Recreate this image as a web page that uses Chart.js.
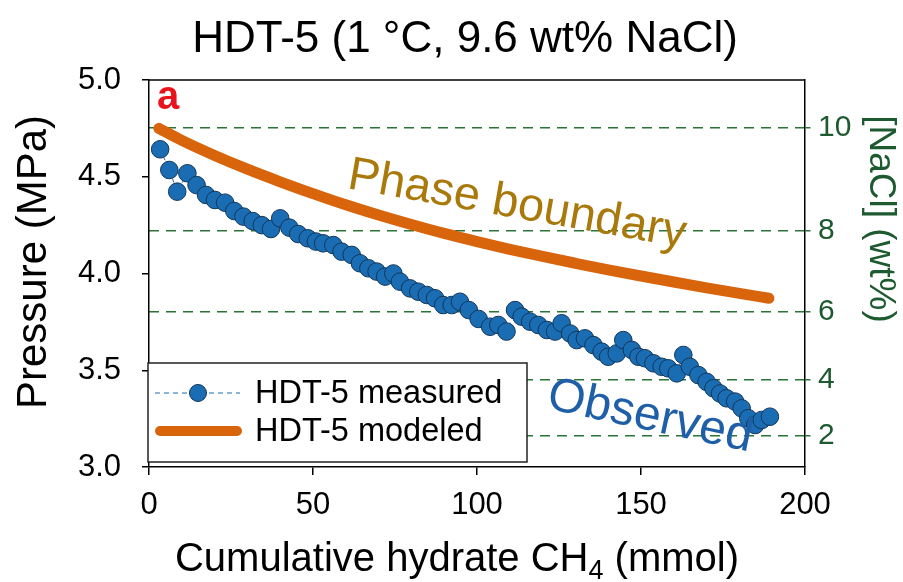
<!DOCTYPE html>
<html>
<head>
<meta charset="utf-8">
<script src="https://cdn.jsdelivr.net/npm/chart.js@4/dist/chart.umd.min.js"></script>
<style>
html,body{margin:0;padding:0;background:#fff;}
#wrap{width:903px;height:582px;position:relative;}
</style>
</head>
<body>
<div id="wrap"><canvas id="c" width="903" height="582"></canvas></div>
<script>
// ---- data ----
const measuredX = [3.4, 6.2, 8.6, 11.7, 14.5, 17.4, 20.1, 23.2, 26.0, 28.8, 31.6, 34.4, 37.2, 40.0, 42.8, 45.5, 48.4, 50.9, 53.1, 56.2, 58.7, 61.8, 64.3, 66.9, 69.4, 72.0, 74.5, 76.5, 79.6, 82.1, 84.7, 87.2, 89.7, 92.3, 94.8, 97.5, 100.5, 104.0, 106.5, 109.0, 111.6, 113.6, 116.2, 118.7, 121.3, 123.8, 125.8, 128.4, 130.4, 132.9, 135.5, 138.0, 140.0, 142.6, 144.6, 147.2, 149.2, 151.2, 153.8, 156.3, 158.3, 160.9, 162.9, 164.9, 167.5, 170.0, 172.1, 174.1, 176.1, 178.7, 180.7, 182.7, 184.8, 186.8, 189.3];
const measuredP = [4.642, 4.535, 4.423, 4.518, 4.457, 4.406, 4.38, 4.366, 4.323, 4.294, 4.271, 4.25, 4.23, 4.285, 4.237, 4.204, 4.182, 4.165, 4.156, 4.147, 4.113, 4.096, 4.053, 4.027, 4.01, 3.984, 4.0, 3.958, 3.923, 3.906, 3.889, 3.872, 3.837, 3.837, 3.854, 3.811, 3.765, 3.725, 3.734, 3.70, 3.811, 3.777, 3.751, 3.734, 3.708, 3.70, 3.743, 3.69, 3.656, 3.665, 3.63, 3.596, 3.57, 3.587, 3.656, 3.605, 3.57, 3.562, 3.536, 3.518, 3.51, 3.484, 3.579, 3.518, 3.475, 3.44, 3.407, 3.38, 3.355, 3.338, 3.303, 3.252, 3.217, 3.243, 3.26];
const modeledX = [3, 10, 20, 30, 40, 50, 60, 70, 80, 90, 100, 110, 120, 130, 140, 150, 160, 170, 180, 189];
const modeledP = [4.75, 4.688, 4.610, 4.539, 4.474, 4.413, 4.355, 4.302, 4.253, 4.207, 4.165, 4.125, 4.088, 4.053, 4.019, 3.987, 3.956, 3.926, 3.897, 3.872];
const xTicks = [0, 50, 100, 150, 200];
const pressureTicks = [3.0, 3.5, 4.0, 4.5, 5.0];
const naclLabels = ['10', '8', '6', '4', '2'];
const naclPressure = [4.752, 4.22, 3.80, 3.45, 3.16];
const seriesNames = ['HDT-5 measured', 'HDT-5 modeled'];
const titleText = 'HDT-5 (1 \u00B0C, 9.6 wt% NaCl)';

const BLUE = '#1a6db3', BLUE_EDGE = '#12365a', ORANGE = '#d8640c';
const GREEN_LINE = '#2a7436', GREEN_TXT = '#1d5a30';
const FONT = '"Liberation Sans", Arial, sans-serif';

const textPlugin = {
  id: 'texts',
  afterDraw(chart) {
    const ctx = chart.ctx, a = chart.chartArea;
    ctx.save();
    // top frame line
    ctx.strokeStyle = '#000'; ctx.lineWidth = 1.5;
    ctx.beginPath(); ctx.moveTo(a.left, a.top); ctx.lineTo(a.right, a.top); ctx.stroke();

    // title
    ctx.fillStyle = '#000';
    ctx.font = '44px ' + FONT;
    ctx.textAlign = 'center'; ctx.textBaseline = 'alphabetic';
    ctx.fillText(titleText, 465, 52);

    // y title
    ctx.save();
    ctx.translate(34, 262); ctx.rotate(-Math.PI / 2);
    ctx.font = '42px ' + FONT; ctx.textBaseline = 'middle'; ctx.textAlign = 'center';
    ctx.fillText('Pressure (MPa)', 0, 0);
    ctx.restore();

    // right title
    ctx.save();
    ctx.translate(880, 219); ctx.rotate(Math.PI / 2);
    ctx.fillStyle = GREEN_TXT;
    ctx.font = '37px ' + FONT; ctx.textBaseline = 'middle'; ctx.textAlign = 'center';
    ctx.fillText('[NaCl] (wt%)', 0, 0);
    ctx.restore();

    // x title with subscript
    ctx.font = '40px ' + FONT; ctx.textAlign = 'left'; ctx.textBaseline = 'alphabetic';
    const p1 = 'Cumulative hydrate CH', p3 = ' (mmol)';
    const w1 = ctx.measureText(p1).width, w3 = ctx.measureText(p3).width;
    ctx.font = '27px ' + FONT;
    const w2 = ctx.measureText('4').width;
    let x0 = 457 - (w1 + w2 + w3) / 2;
    const by = 571;
    ctx.font = '40px ' + FONT; ctx.fillText(p1, x0, by);
    ctx.font = '27px ' + FONT; ctx.fillText('4', x0 + w1, by + 8);
    ctx.font = '40px ' + FONT; ctx.fillText(p3, x0 + w1 + w2, by);

    // panel letter
    ctx.fillStyle = '#e8141b'; ctx.font = 'bold 40px ' + FONT;
    ctx.textAlign = 'center'; ctx.textBaseline = 'middle';
    ctx.fillText('a', 168, 98);

    // annotations
    ctx.save();
    ctx.translate(517, 205); ctx.rotate(10 * Math.PI / 180);
    ctx.fillStyle = '#a9790b'; ctx.font = '47px ' + FONT;
    ctx.textAlign = 'center'; ctx.textBaseline = 'middle';
    ctx.fillText('Phase boundary', 0, 0);
    ctx.restore();
    ctx.save();
    ctx.translate(650, 417); ctx.rotate(12 * Math.PI / 180);
    ctx.fillStyle = '#1f5fa8'; ctx.font = '48px ' + FONT;
    ctx.textAlign = 'center'; ctx.textBaseline = 'middle';
    ctx.fillText('Observed', 0, 0);
    ctx.restore();

    // legend
    ctx.fillStyle = '#fff'; ctx.strokeStyle = '#222'; ctx.lineWidth = 1.5;
    ctx.fillRect(148, 363, 379, 99); ctx.strokeRect(148, 363, 379, 99);
    ctx.strokeStyle = BLUE; ctx.lineWidth = 1; ctx.setLineDash([5, 4]);
    ctx.beginPath(); ctx.moveTo(155, 393); ctx.lineTo(240, 393); ctx.stroke();
    ctx.setLineDash([]);
    ctx.fillStyle = BLUE; ctx.strokeStyle = BLUE_EDGE;
    ctx.beginPath(); ctx.arc(198, 393, 8.5, 0, Math.PI * 2); ctx.fill(); ctx.stroke();
    ctx.strokeStyle = ORANGE; ctx.lineWidth = 10; ctx.lineCap = 'round';
    ctx.beginPath(); ctx.moveTo(160, 431); ctx.lineTo(237, 431); ctx.stroke();
    ctx.fillStyle = '#000'; ctx.font = '32.5px ' + FONT;
    ctx.textAlign = 'left'; ctx.textBaseline = 'middle';
    ctx.fillText(seriesNames[0], 255, 394);
    ctx.fillText(seriesNames[1], 255, 432);
    ctx.restore();
  }
};

new Chart(document.getElementById('c'), {
  type: 'scatter',
  data: {
    datasets: [
      {
        label: seriesNames[1],
        data: modeledX.map((x, i) => ({x, y: modeledP[i]})),
        showLine: true, borderColor: ORANGE, borderWidth: 11,
        borderCapStyle: 'round', cubicInterpolationMode: 'monotone',
        pointRadius: 0, order: 2, yAxisID: 'y'
      },
      {
        label: seriesNames[0],
        data: measuredX.map((x, i) => ({x, y: measuredP[i]})),
        showLine: true, borderColor: BLUE, borderWidth: 1, borderDash: [4, 4],
        pointRadius: 8.8, pointBackgroundColor: BLUE, pointBorderColor: BLUE_EDGE,
        pointBorderWidth: 1, order: 1, yAxisID: 'y'
      }
    ]
  },
  options: {
    responsive: false, animation: false, devicePixelRatio: 1,
    layout: { padding: { top: 80, left: 0, right: 0, bottom: 0 } },
    plugins: { legend: { display: false }, title: { display: false }, tooltip: { enabled: false } },
    scales: {
      x: {
        type: 'linear', position: 'bottom', min: 0, max: 200,
        afterBuildTicks: s => { s.ticks = xTicks.map(v => ({value: v})); },
        afterFit: s => { s.height = 115; },
        grid: { drawOnChartArea: false, drawTicks: true, tickLength: 8, color: '#000', lineWidth: 1.5 },
        border: { display: true, color: '#000', width: 1.5 },
        ticks: { color: '#000', font: { family: FONT, size: 31 }, padding: 12, maxRotation: 0 }
      },
      y: {
        type: 'linear', position: 'left', min: 3, max: 5,
        afterBuildTicks: s => { s.ticks = pressureTicks.map(v => ({value: v})); },
        afterFit: s => { s.width = 149; },
        grid: { drawOnChartArea: false, drawTicks: true, tickLength: 7, color: '#000', lineWidth: 1.5 },
        border: { display: true, color: '#000', width: 1.5 },
        ticks: { color: '#000', font: { family: FONT, size: 31 }, padding: 21, callback: v => Number(v).toFixed(1) }
      },
      y2: {
        type: 'linear', position: 'right', min: 3, max: 5,
        afterBuildTicks: s => { s.ticks = naclPressure.map(v => ({value: v})); },
        afterFit: s => { s.width = 98; },
        grid: { drawOnChartArea: true, drawTicks: true, tickLength: 9, color: GREEN_LINE, lineWidth: 1.5, tickBorderDash: [5, 4] },
        border: { display: true, color: '#000', width: 1.5, dash: [10, 7] },
        ticks: { color: GREEN_TXT, font: { family: FONT, size: 30 }, padding: 4,
          callback: (v, i) => naclLabels[i] }
      }
    }
  },
  plugins: [textPlugin]
});
</script>
</body>
</html>
